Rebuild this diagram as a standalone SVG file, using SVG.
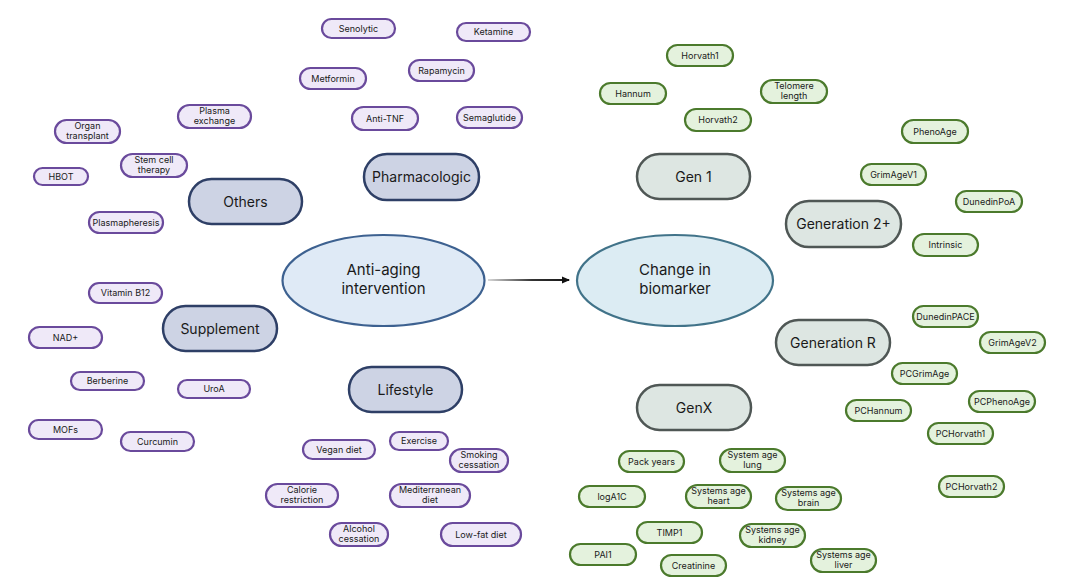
<svg xmlns="http://www.w3.org/2000/svg" width="1080" height="588" viewBox="0 0 1080 588">
<defs>
<style>
text{font-family:Inter,"Liberation Sans",Arial,sans-serif;fill:#1a1a1a;text-anchor:middle}
.p rect{fill:#efe9f8;stroke:#6a4a9c;stroke-width:2.2}
.pc rect{fill:#cdd3e4;stroke:#2e3f66;stroke-width:2.5}
.g rect{fill:#e4f2dd;stroke:#4b7a2c;stroke-width:2.2}
.gc rect{fill:#dde6e2;stroke:#4f5755;stroke-width:2.5}
.p text,.g text{font-size:9px}
.pc text,.gc text{font-size:14px}
.main text{font-size:15px}
</style>
<linearGradient id="ag" gradientUnits="userSpaceOnUse" x1="488" y1="280" x2="576" y2="280">
<stop offset="0" stop-color="#d8d8d8"/>
<stop offset="0.5" stop-color="#333"/>
<stop offset="1" stop-color="#111"/>
</linearGradient>
<marker id="ah" markerWidth="8" markerHeight="8" refX="7" refY="4" orient="auto" markerUnits="userSpaceOnUse">
<path d="M0,0.5 L8,4 L0,7.5 Z" fill="#111"/>
</marker>
</defs>
<rect width="1080" height="588" fill="#fff"/>

<g id="connectors">
<line x1="488" y1="280" x2="569" y2="280" stroke="url(#ag)" stroke-width="2" marker-end="url(#ah)"/>
</g>

<g id="anti-aging" class="main"><ellipse cx="383.5" cy="280.5" rx="101" ry="45.5" fill="#dfeaf6" stroke="#3d6190" stroke-width="2.2"/><text x="383.5" y="275">Anti-aging</text><text x="383.5" y="294">intervention</text></g>
<g id="change-biomarker" class="main"><ellipse cx="675" cy="280.5" rx="98" ry="45.5" fill="#dcecf3" stroke="#417389" stroke-width="2.2"/><text x="675" y="275">Change in</text><text x="675" y="294">biomarker</text></g>

<g id="others" class="pc"><rect x="189" y="179" width="113" height="45" rx="22.5"/><text x="245.5" y="206.5">Others</text></g>
<g id="pharmacologic" class="pc"><rect x="364" y="154" width="115" height="46" rx="23"/><text x="421.5" y="182">Pharmacologic</text></g>
<g id="supplement" class="pc"><rect x="163" y="306" width="114" height="45" rx="22.5"/><text x="220" y="333.5">Supplement</text></g>
<g id="lifestyle" class="pc"><rect x="349" y="367" width="113" height="45" rx="22.5"/><text x="405.5" y="394.5">Lifestyle</text></g>

<g id="senolytic" class="p"><rect x="322" y="19" width="73" height="19" rx="9.5"/><text x="358.5" y="31.7">Senolytic</text></g>
<g id="ketamine" class="p"><rect x="457" y="23" width="73" height="18" rx="9"/><text x="493.5" y="35.2">Ketamine</text></g>
<g id="metformin" class="p"><rect x="300" y="68" width="66" height="21" rx="10.5"/><text x="333" y="81.7">Metformin</text></g>
<g id="rapamycin" class="p"><rect x="409" y="60" width="65" height="21" rx="10.5"/><text x="441.5" y="73.7">Rapamycin</text></g>
<g id="plasma-exchange" class="p"><rect x="178" y="105" width="73" height="23" rx="11.5"/><text x="214.5" y="114">Plasma</text><text x="214.5" y="124">exchange</text></g>
<g id="anti-tnf" class="p"><rect x="352" y="107" width="66" height="23" rx="11.5"/><text x="385" y="121.7">Anti-TNF</text></g>
<g id="semaglutide" class="p"><rect x="457" y="107" width="65" height="21" rx="10.5"/><text x="489.5" y="120.7">Semaglutide</text></g>
<g id="organ-transplant" class="p"><rect x="55" y="120" width="65" height="23" rx="11.5"/><text x="87.5" y="129">Organ</text><text x="87.5" y="139">transplant</text></g>
<g id="stem-cell-therapy" class="p"><rect x="121" y="154" width="66" height="23" rx="11.5"/><text x="154" y="163">Stem cell</text><text x="154" y="173">therapy</text></g>
<g id="hbot" class="p"><rect x="34" y="168" width="54" height="17" rx="8.5"/><text x="61" y="179.7">HBOT</text></g>
<g id="plasmapheresis" class="p"><rect x="89" y="212" width="74" height="21" rx="10.5"/><text x="126" y="225.7">Plasmapheresis</text></g>
<g id="vitamin-b12" class="p"><rect x="89" y="283" width="73" height="20" rx="10"/><text x="125.5" y="296.2">Vitamin B12</text></g>
<g id="nad" class="p"><rect x="29" y="327" width="73" height="21" rx="10.5"/><text x="65.5" y="340.7">NAD+</text></g>
<g id="berberine" class="p"><rect x="71" y="372" width="73" height="18" rx="9"/><text x="107.5" y="384.2">Berberine</text></g>
<g id="uroa" class="p"><rect x="178" y="380" width="72" height="18" rx="9"/><text x="214" y="392.2">UroA</text></g>
<g id="mofs" class="p"><rect x="29" y="420" width="73" height="19" rx="9.5"/><text x="65.5" y="432.7">MOFs</text></g>
<g id="curcumin" class="p"><rect x="121" y="432" width="73" height="19" rx="9.5"/><text x="157.5" y="444.7">Curcumin</text></g>
<g id="exercise" class="p"><rect x="390" y="432" width="58" height="18" rx="9"/><text x="419" y="444.2">Exercise</text></g>
<g id="vegan-diet" class="p"><rect x="303" y="440" width="72" height="19" rx="9.5"/><text x="339" y="452.7">Vegan diet</text></g>
<g id="smoking-cessation" class="p"><rect x="450" y="449" width="58" height="23" rx="11.5"/><text x="479" y="458">Smoking</text><text x="479" y="468">cessation</text></g>
<g id="calorie-restriction" class="p"><rect x="266" y="484" width="72" height="23" rx="11.5"/><text x="302" y="493">Calorie</text><text x="302" y="503">restriction</text></g>
<g id="mediterranean-diet" class="p"><rect x="390" y="484" width="80" height="23" rx="11.5"/><text x="430" y="493">Mediterranean</text><text x="430" y="503">diet</text></g>
<g id="alcohol-cessation" class="p"><rect x="330" y="523" width="58" height="23" rx="11.5"/><text x="359" y="532">Alcohol</text><text x="359" y="542">cessation</text></g>
<g id="low-fat-diet" class="p"><rect x="441" y="523" width="80" height="23" rx="11.5"/><text x="481" y="537.7">Low-fat diet</text></g>

<g id="gen1" class="gc"><rect x="637" y="154" width="113" height="45" rx="22.5"/><text x="693.5" y="181.5">Gen 1</text></g>
<g id="generation2" class="gc"><rect x="786" y="201" width="115" height="46" rx="23"/><text x="843.5" y="229">Generation 2+</text></g>
<g id="generationR" class="gc"><rect x="776" y="320" width="114" height="45" rx="22.5"/><text x="833" y="347.5">Generation R</text></g>
<g id="genx" class="gc"><rect x="637" y="385" width="114" height="45" rx="22.5"/><text x="694" y="412.5">GenX</text></g>

<g id="horvath1" class="g"><rect x="667" y="45" width="66" height="21" rx="10.5"/><text x="700" y="58.7">Horvath1</text></g>
<g id="hannum" class="g"><rect x="600" y="83" width="66" height="21" rx="10.5"/><text x="633" y="96.7">Hannum</text></g>
<g id="telomere-length" class="g"><rect x="761" y="80" width="66" height="23" rx="11.5"/><text x="794" y="89">Telomere</text><text x="794" y="99">length</text></g>
<g id="horvath2" class="g"><rect x="685" y="109" width="66" height="22" rx="11"/><text x="718" y="123.2">Horvath2</text></g>
<g id="phenoage" class="g"><rect x="902" y="120" width="66" height="23" rx="11.5"/><text x="935" y="134.7">PhenoAge</text></g>
<g id="grimagev1" class="g"><rect x="861" y="164" width="65" height="21" rx="10.5"/><text x="893.5" y="177.7">GrimAgeV1</text></g>
<g id="dunedinpoa" class="g"><rect x="956" y="191" width="66" height="21" rx="10.5"/><text x="989" y="204.7">DunedinPoA</text></g>
<g id="intrinsic" class="g"><rect x="913" y="234" width="65" height="22" rx="11"/><text x="945.5" y="248.2">Intrinsic</text></g>
<g id="dunedinpace" class="g"><rect x="913" y="306" width="65" height="21" rx="10.5"/><text x="945.5" y="319.7">DunedinPACE</text></g>
<g id="grimagev2" class="g"><rect x="980" y="332" width="65" height="21" rx="10.5"/><text x="1012.5" y="345.7">GrimAgeV2</text></g>
<g id="pcgrimage" class="g"><rect x="892" y="363" width="65" height="21" rx="10.5"/><text x="924.5" y="376.7">PCGrimAge</text></g>
<g id="pcphenoage" class="g"><rect x="969" y="391" width="66" height="21" rx="10.5"/><text x="1002" y="404.7">PCPhenoAge</text></g>
<g id="pchannum" class="g"><rect x="846" y="400" width="65" height="21" rx="10.5"/><text x="878.5" y="413.7">PCHannum</text></g>
<g id="pchorvath1" class="g"><rect x="928" y="423" width="65" height="21" rx="10.5"/><text x="960.5" y="436.7">PCHorvath1</text></g>
<g id="pchorvath2" class="g"><rect x="939" y="476" width="65" height="21" rx="10.5"/><text x="971.5" y="489.7">PCHorvath2</text></g>
<g id="pack-years" class="g"><rect x="619" y="451" width="65" height="21" rx="10.5"/><text x="651.5" y="464.7">Pack years</text></g>
<g id="system-age-lung" class="g"><rect x="720" y="449" width="65" height="23" rx="11.5"/><text x="752.5" y="458">System age</text><text x="752.5" y="468">lung</text></g>
<g id="loga1c" class="g"><rect x="579" y="486" width="66" height="21" rx="10.5"/><text x="612" y="499.7">logA1C</text></g>
<g id="systems-age-heart" class="g"><rect x="686" y="485" width="65" height="23" rx="11.5"/><text x="718.5" y="494">Systems age</text><text x="718.5" y="504">heart</text></g>
<g id="systems-age-brain" class="g"><rect x="776" y="487" width="65" height="23" rx="11.5"/><text x="808.5" y="496">Systems age</text><text x="808.5" y="506">brain</text></g>
<g id="timp1" class="g"><rect x="637" y="522" width="65" height="21" rx="10.5"/><text x="669.5" y="535.7">TIMP1</text></g>
<g id="systems-age-kidney" class="g"><rect x="740" y="524" width="65" height="23" rx="11.5"/><text x="772.5" y="533">Systems age</text><text x="772.5" y="543">kidney</text></g>
<g id="pai1" class="g"><rect x="570" y="544" width="66" height="21" rx="10.5"/><text x="603" y="557.7">PAI1</text></g>
<g id="creatinine" class="g"><rect x="661" y="555" width="65" height="21" rx="10.5"/><text x="693.5" y="568.7">Creatinine</text></g>
<g id="systems-age-liver" class="g"><rect x="811" y="549" width="65" height="23" rx="11.5"/><text x="843.5" y="558">Systems age</text><text x="843.5" y="568">liver</text></g>
</svg>
